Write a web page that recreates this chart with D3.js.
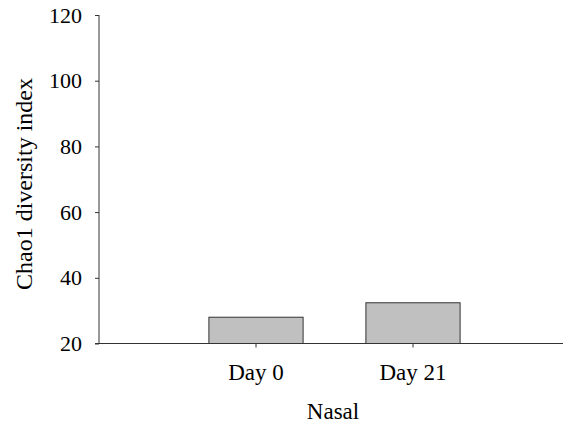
<!DOCTYPE html>
<html>
<head>
<meta charset="utf-8">
<script src="https://cdn.jsdelivr.net/npm/d3@7"></script>
<style>
  body { margin: 0; background: #fff; }
</style>
</head>
<body>
<div id="chart"></div>
<script>
// data
const days = ["Day 0", "Day 21"];
const chao1 = [28, 32.4];
const yTicks = [20, 40, 60, 80, 100, 120];

const width = 563, height = 429;
const margin = { top: 15, left: 99, bottom: 85, right: 0 };
const serif = "'Liberation Serif', 'Times New Roman', serif";

const svg = d3.select("#chart").append("svg")
  .attr("width", width)
  .attr("height", height)
  .attr("font-family", serif);

const y = d3.scaleLinear()
  .domain([20, 120])
  .range([height - margin.bottom - 0.5, margin.top]);

const x = d3.scaleBand()
  .domain(days)
  .range([margin.left, 570])
  .paddingInner(0.4)
  .paddingOuter(0.7);

// bars
svg.append("g")
  .selectAll("rect")
  .data(days)
  .join("rect")
    .attr("x", d => x(d))
    .attr("width", x.bandwidth())
    .attr("y", (d, i) => y(chao1[i]))
    .attr("height", (d, i) => y(20) - y(chao1[i]))
    .attr("fill", "#c0c0c0")
    .attr("stroke", "#333")
    .attr("stroke-width", 1);

// y axis
const yAxis = svg.append("g")
  .attr("transform", `translate(${margin.left},0)`)
  .call(d3.axisLeft(y).tickValues(yTicks).tickSize(4).tickPadding(13).tickFormat(d3.format("d")))
  .attr("font-family", serif)
  .attr("font-size", 22);
yAxis.select(".domain").attr("d", `M0,${y(120)}V${y(20)}`);

// x axis
const xAxis = svg.append("g")
  .attr("transform", `translate(0,${y(20)})`)
  .call(d3.axisBottom(x).tickSize(4).tickPadding(16))
  .attr("font-family", serif)
  .attr("font-size", 23);
xAxis.select(".domain").attr("d", `M${margin.left - 4},0H${width}`);

svg.selectAll(".tick text").attr("fill", "#000");
svg.selectAll(".domain, .tick line").attr("stroke", "#333");

// axis titles
svg.append("text")
  .attr("transform", `translate(32,184) rotate(-90)`)
  .attr("text-anchor", "middle")
  .attr("font-size", 24)
  .text("Chao1 diversity index");

svg.append("text")
  .attr("x", 333)
  .attr("y", 419)
  .attr("text-anchor", "middle")
  .attr("font-size", 23)
  .text("Nasal");
</script>
</body>
</html>
